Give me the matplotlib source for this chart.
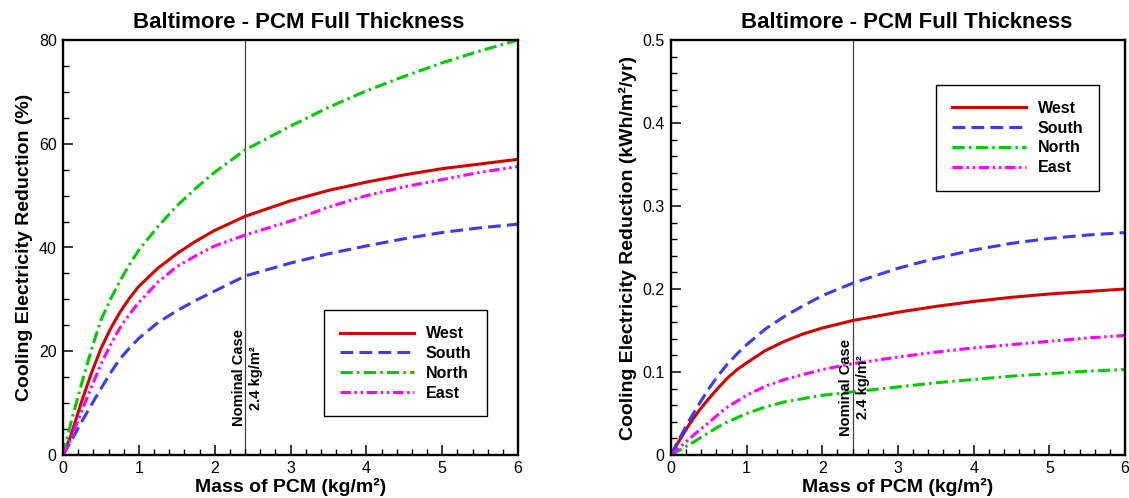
import matplotlib
matplotlib.use("Agg")
import matplotlib.pyplot as plt
from matplotlib.ticker import MultipleLocator, FormatStrFormatter

plt.rcParams['font.family'] = ['Liberation Sans', 'DejaVu Sans']

# mass of PCM (kg/m2)
mass = [0, 0.1, 0.25, 0.375, 0.5, 0.625, 0.75, 0.875, 1, 1.25, 1.5, 1.75, 2, 2.4, 3, 3.5, 4, 4.5, 5, 5.5, 6]

# cooling electricity reduction (%)
pct_west = [0, 3.6, 10.5, 15.8, 20.5, 24.3, 27.5, 30.2, 32.5, 36, 38.8, 41.2, 43.3, 46, 49, 51, 52.6, 54, 55.2, 56.1, 57]
pct_south = [0, 2.5, 6.5, 9.7, 12.8, 15.8, 18.5, 20.6, 22.5, 25.5, 27.8, 29.8, 31.6, 34.5, 37, 38.8, 40.3, 41.7, 42.9, 43.8, 44.5]
pct_north = [0, 6, 14, 20.3, 26, 30, 33.5, 36.7, 39.5, 44, 48, 51.4, 54.5, 58.8, 63.4, 67, 70.2, 73, 75.6, 77.9, 80]
pct_east = [0, 3, 8.6, 13.1, 17.5, 21.2, 24.5, 27.1, 29.4, 33.3, 36.3, 38.4, 40.3, 42.4, 45.1, 47.8, 50, 51.7, 53.1, 54.5, 55.6]

# cooling electricity reduction (kWh/m2/yr)
kwh_west = [0, 0.016, 0.038, 0.054, 0.068, 0.081, 0.093, 0.103, 0.111, 0.126, 0.137, 0.146, 0.153, 0.162, 0.172, 0.179, 0.185, 0.19, 0.194, 0.197, 0.2]
kwh_south = [0, 0.018, 0.043, 0.062, 0.08, 0.096, 0.11, 0.122, 0.133, 0.152, 0.167, 0.18, 0.192, 0.207, 0.225, 0.237, 0.247, 0.255, 0.261, 0.265, 0.268]
kwh_north = [0, 0.005, 0.013, 0.02, 0.027, 0.034, 0.04, 0.045, 0.05, 0.058, 0.064, 0.068, 0.072, 0.076, 0.082, 0.087, 0.091, 0.095, 0.098, 0.101, 0.103]
kwh_east = [0, 0.008, 0.02, 0.03, 0.039, 0.049, 0.058, 0.065, 0.072, 0.083, 0.091, 0.097, 0.103, 0.11, 0.118, 0.124, 0.129, 0.133, 0.137, 0.141, 0.144]

names = ['West', 'South', 'North', 'East']
nominal = 2.4
title = 'Baltimore - PCM Full Thickness'

# line styles (colour, dash pattern)
styles = {
    'West': ('#d40000', None),
    'South': ('#3a3aff', (4.2, 2.0)),
    'North': ('#00cc00', (4.0, 1.4, 0.8, 1.4)),
    'East': ('#ff00ff', (3.4, 1.2, 0.8, 1.2, 0.8, 1.2)),
}

fig = plt.figure(figsize=(11.29, 4.98), dpi=100)
ax1 = fig.add_axes([63/1129, 1 - 455/498, 455/1129, 415/498])
ax2 = fig.add_axes([671/1129, 1 - 455/498, 454/1129, 415/498])


def draw(ax, series, ymax, ymaj, ymin, ylabel, leg_pos, note_y):
    for name, vals in zip(names, series):
        col, dash = styles[name]
        ln, = ax.plot(mass, vals, color=col, lw=2.2, label=name)
        if dash is not None:
            ln.set_dashes(dash)
    ax.axvline(nominal, color='#404040', lw=0.9, zorder=1)
    ax.text(nominal + 0.03, note_y, 'Nominal Case\n2.4 kg/m\u00b2', rotation=90,
            ha='center', va='center', multialignment='center',
            fontsize=10.5, fontweight='bold', linespacing=1.25)
    ax.set_xlim(0, 6)
    ax.set_ylim(0, ymax)
    ax.xaxis.set_major_locator(MultipleLocator(1))
    ax.xaxis.set_minor_locator(MultipleLocator(0.2))
    ax.yaxis.set_major_locator(MultipleLocator(ymaj))
    ax.yaxis.set_minor_locator(MultipleLocator(ymin))
    ax.yaxis.set_major_formatter(FormatStrFormatter('%g'))
    ax.tick_params(which='both', direction='in', top=False, right=False, labelsize=11.5)
    ax.tick_params(which='major', length=7, width=1.1, pad=4.5)
    ax.tick_params(which='minor', length=4, width=1.0)
    for sp in ax.spines.values():
        sp.set_linewidth(1.7)
    ax.set_title(title, fontsize=16, fontweight='bold', x=0.519, pad=9)
    ax.set_xlabel('Mass of PCM (kg/m\u00b2)', fontsize=14, fontweight='bold', labelpad=1)
    ax.set_ylabel(ylabel, fontsize=14, fontweight='bold', labelpad=4)
    leg = ax.legend(loc='upper left', bbox_to_anchor=leg_pos,
                    prop={'weight': 'bold', 'size': 11.5}, fancybox=False,
                    edgecolor='black', framealpha=1, handlelength=4.6,
                    handletextpad=0.75, labelspacing=0.3, borderpad=1.0,
                    borderaxespad=0)
    leg.get_frame().set_linewidth(1.0)


draw(ax1, [pct_west, pct_south, pct_north, pct_east], 80, 20, 5,
     'Cooling Electricity Reduction (%)', (0.574, 0.349), 14.9)
draw(ax2, [kwh_west, kwh_south, kwh_north, kwh_east], 0.5, 0.1, 0.02,
     'Cooling Electricity Reduction (kWh/m\u00b2/yr)', (0.584, 0.892), 0.0813)

fig.savefig('out.png', dpi=100)
